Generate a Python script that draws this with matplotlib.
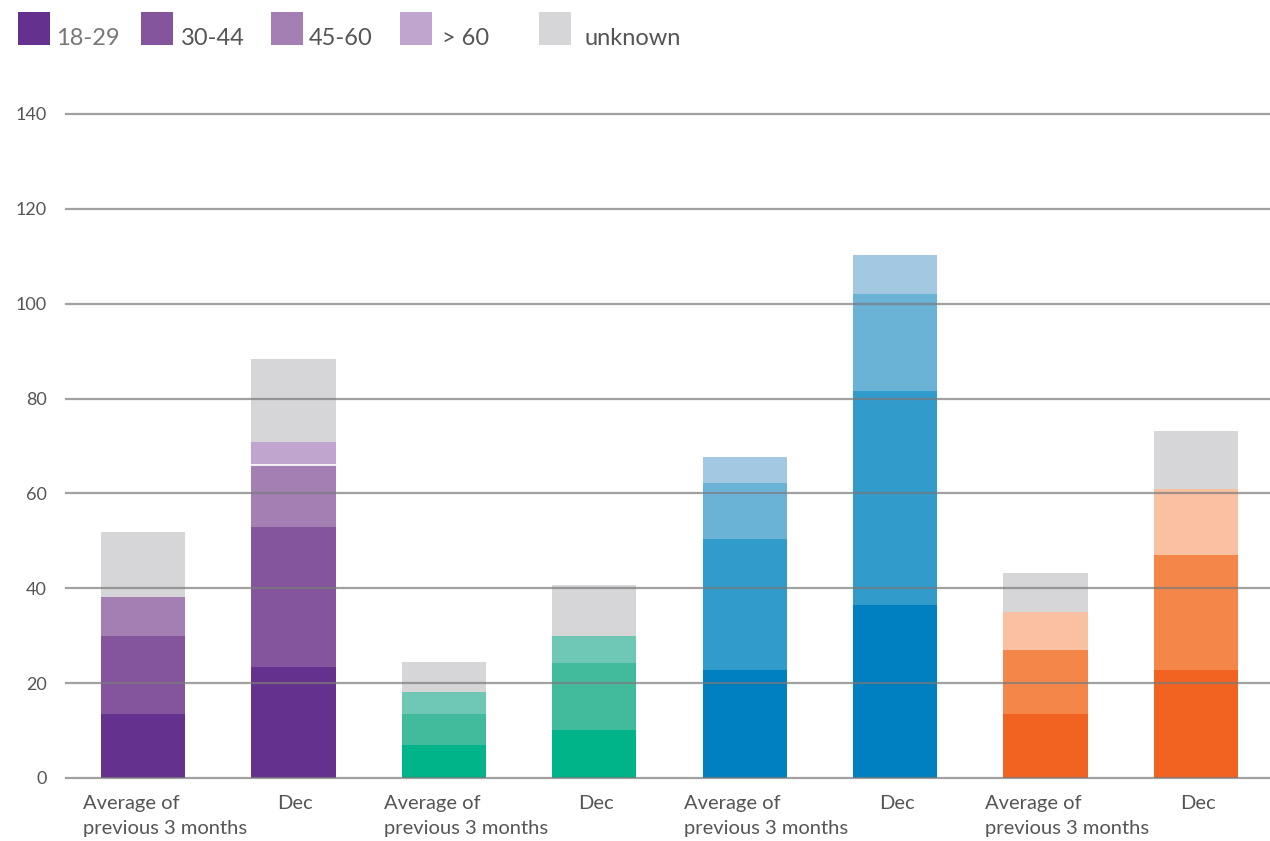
import numpy as np
import matplotlib
matplotlib.use('Agg')
import matplotlib.pyplot as plt
from matplotlib.patches import Rectangle

plt.rcParams['font.family'] = ['Lato', 'DejaVu Sans']

# Data (segment heights, bottom to top)
categories = ['Average of\nprevious 3 months', 'Dec'] * 4
series_names = ['18-29', '30-44', '45-60', '> 60', 'unknown']
age_18_29 = [13.5, 23.4, 7.0, 10.1, 22.8, 36.5, 13.5, 22.8]
age_30_44 = [16.4, 29.5, 6.5, 14.1, 27.6, 45.1, 13.5, 24.2]
age_45_60 = [8.2, 13.1, 4.6, 5.7, 11.8, 20.4, 8.0, 13.9]
age_over_60 = [0.0, 4.8, 0.0, 0.0, 5.5, 8.3, 0.0, 0.0]
unknown = [13.7, 17.5, 6.4, 10.8, 0.0, 0.0, 8.2, 12.3]
yticks = [0, 20, 40, 60, 80, 100, 120, 140]

# one palette per pair of bars
grey = '#d6d5d7'
palettes = [
    ['#65318f', '#84559c', '#a47fb3', '#c0a6cf', grey],   # purple
    ['#00b48a', '#42bb9d', '#6fc7b5', '#a0d9cc', grey],   # green
    ['#0080c0', '#319bcb', '#6ab3d7', '#a2c9e1', grey],   # blue
    ['#f26322', '#f4864a', '#f9c1a2', '#fbd8c4', grey],   # orange
]

series = [age_18_29, age_30_44, age_45_60, age_over_60, unknown]

W, H = 1270, 841
fig = plt.figure(figsize=(W / 100, H / 100), dpi=100)
ax = fig.add_axes([66 / W, 63 / H, 1204 / W, 664 / H])

x = np.arange(len(categories))
bottom = np.zeros(len(categories))
for k, vals in enumerate(series):
    cols = [palettes[i // 2][k] for i in range(len(categories))]
    ax.bar(x, vals, bottom=bottom, width=0.56, color=cols, zorder=2)
    bottom += np.array(vals)

# thin white seam under the "> 60" segment of the purple Dec bar
seam = np.array(age_18_29) + np.array(age_30_44) + np.array(age_45_60)
ax.hlines(seam[1], x[1] - 0.28, x[1] + 0.28, color='white', lw=1.2, zorder=2.5)

ax.set_xlim(-0.512, 7.493)
ax.set_ylim(0, 140)

# gridlines drawn over the bars
for yv in yticks:
    ax.axhline(yv, color='#7a7a7a', lw=1.6, alpha=0.7, zorder=3, clip_on=False)

for s in ax.spines.values():
    s.set_visible(False)
ax.set_xticks([])
ax.set_yticks(yticks)
ax.tick_params(axis='y', length=0, pad=14, labelsize=13, labelcolor='#555555')

# category labels, left aligned as in the reference
for i, lab in enumerate(categories):
    off = -0.40 if i % 2 == 0 else -0.105
    ax.text(x[i] + off, -3.6, lab, ha='left', va='top', fontsize=14.5,
            color='#555555', linespacing=1.6)

# legend drawn by hand (pixel layout of the reference)
sq_x = [18, 141, 271, 400, 539]
txt_x = [56, 181, 309, 442, 585]
for k, name in enumerate(series_names):
    fig.add_artist(Rectangle((sq_x[k] / W, 1 - 45 / H), 32 / W, 33 / H,
                             transform=fig.transFigure,
                             color=palettes[0][k], lw=0))
    fig.text(txt_x[k] / W, 1 - 45 / H, name, ha='left', va='baseline',
             fontsize=17, color='#777777' if k == 0 else '#555555')

fig.savefig('out.png', dpi=100)
